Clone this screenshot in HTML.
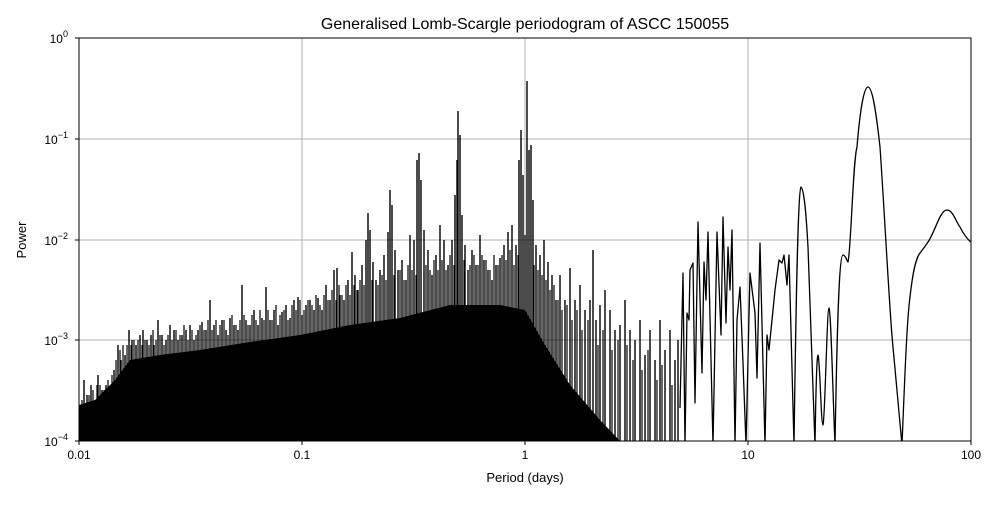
<!DOCTYPE html>
<html><head><meta charset="utf-8"><style>
body{margin:0;background:#fff}
svg text{font-family:"Liberation Sans","DejaVu Sans",sans-serif;fill:#000}
</style></head><body>
<svg width="1000" height="500" xmlns="http://www.w3.org/2000/svg">
<rect width="1000" height="500" fill="#fff"/>
<g stroke="#b0b0b0" stroke-width="1">
<line x1="302" y1="38" x2="302" y2="441"/><line x1="525" y1="38" x2="525" y2="441"/><line x1="748" y1="38" x2="748" y2="441"/>
<line x1="79" y1="139" x2="971" y2="139"/><line x1="79" y1="240" x2="971" y2="240"/><line x1="79" y1="340" x2="971" y2="340"/>
</g>
<defs><clipPath id="c"><rect x="79" y="38" width="892" height="403"/></clipPath></defs>
<g clip-path="url(#c)">
<polygon fill="#000" points="79,441 79,405 95,400 115,380 130,360 160,355 200,350 250,342 300,335 350,325 400,318 450,305 500,305 525,310 545,345 570,385 600,420 620,441"/>
<path fill="none" stroke="#000" stroke-width="1.4" d="M80,441V410M84,441V380M87,441V395M91,441V385M95,441V400M98,441V375M102,441V390M106,441V385M110,441V392M114,441V370M118,441V345M121,441V360M125,441V355M129,441V330M132,441V340M136,441V345M140,441V335M143,441V330M147,441V340M151,441V335M154,441V345M158,441V320M162,441V335M166,441V340M170,441V325M174,441V330M178,441V340M182,441V335M186,441V330M190,441V325M194,441V340M198,441V330M202,441V322M206,441V330M210,441V300M214,441V325M218,441V335M222,441V320M226,441V330M230,441V318M234,441V325M238,441V330M242,441V285M246,441V320M250,441V325M254,441V310M258,441V325M262,441V318M266,441V287M270,441V320M274,441V310M278,441V325M282,441V312M286,441V305M290,441V318M294,441V300M298,441V297M302,441V315M306,441V305M310,441V300M314,441V310M318,441V298M322,441V310M326,441V285M330,441V300M334,441V270M337,441V268M340,441V295M344,441V300M348,441V280M352,441V252M355,441V275M358,441V290M362,441V265M366,441V240M368,441V213M370,441V230M373,441V262M376,441V280M380,441V270M384,441V255M388,441V232M390,441V190M392,441V205M395,441V250M398,441V270M402,441V260M406,441V280M410,441V235M414,441V240M417,441V160M419,441V153M421,441V180M424,441V230M428,441V250M432,441V275M436,441V255M440,441V225M444,441V240M448,441V265M452,441V240M455,441V195M457,441V160M458,441V111M460,441V135M462,441V215M465,441V245M468,441V270M472,441V250M476,441V265M480,441V235M484,441V260M488,441V270M492,441V280M496,441V265M500,441V258M504,441V245M508,441V232M512,441V225M516,441V245M519,441V160M521,441V130M523,441V175M525,441V235M527,441V81M529,441V150M531,441V145M533,441V200M536,441V245M540,441V255M544,441V240M548,441V262M552,441V275M556,441V300M560,441V275M565,441V300M570,441V268M575,441V300M580,441V285M585,441V310M590,441V300M593,441V250M596,441V320M600,441V305M605,441V290M610,441V310M615,441V330M620,441V325M625,441V300M630,441V330M635,441V340M640,441V320M645,441V355M650,441V330M655,441V360M660,441V320M665,441V350M670,441V330M675,441V360M678,441V340"/>
<path fill="none" stroke="#000" stroke-width="1.2" d="M82,441V400M89,441V395M93,441V390M97,441V385M100,441V385M104,441V390M108,441V380M112,441V375M116,441V360M120,441V350M123,441V345M127,441V345M131,441V345M134,441V340M138,441V340M142,441V345M145,441V340M149,441V345M153,441V330M156,441V340M160,441V335M164,441V345M168,441V335M172,441V340M176,441V330M180,441V335M184,441V325M188,441V340M192,441V330M196,441V335M200,441V325M204,441V330M208,441V320M212,441V330M216,441V320M220,441V325M224,441V320M228,441V335M232,441V315M236,441V325M240,441V320M244,441V315M248,441V325M252,441V315M256,441V320M260,441V310M264,441V320M268,441V310M272,441V320M276,441V305M280,441V315M284,441V310M288,441V320M292,441V305M296,441V310M300,441V300M304,441V310M308,441V300M312,441V305M316,441V295M320,441V305M324,441V295M328,441V300M332,441V290M336,441V300M339,441V285M342,441V295M346,441V285M350,441V295M354,441V285M357,441V290M360,441V280M364,441V285M372,441V280M378,441V285M382,441V275M386,441V280M394,441V275M400,441V270M404,441V280M408,441V265M412,441V270M416,441V275M426,441V265M430,441V270M434,441V260M438,441V270M442,441V260M446,441V270M450,441V255M454,441V265M464,441V260M470,441V265M474,441V255M478,441V265M482,441V255M486,441V260M490,441V270M494,441V255M498,441V265M502,441V255M506,441V260M510,441V250M514,441V265M518,441V255M534,441V265M538,441V270M542,441V275M546,441V280M550,441V290M554,441V285M558,441V300M562,441V310M567,441V305M572,441V320M577,441V310M582,441V330M588,441V320M598,441V345M603,441V330M612,441V350M618,441V340M627,441V345M633,441V360M642,441V370M648,441V350M657,441V380M662,441V365M672,441V385"/>
<path fill="none" stroke="#000" stroke-width="1.3" stroke-linejoin="round" d="M680,408 L683,273 L685,445 L687,313 L689,320 L690,270 L693,263 L695,403 L698,222 L702,373 L704,262 L706,300 L708,232 L713,445 L717,232 L721,335 L723,217 L726,323 L728,247 L730,290 L732,230 L735,445 L737,320 L740,287 L743,363 L746,445 L750,273 L755,313 L757,378 L760,243 L765,445 L767,335 L769,350 L775,290 L779,260 L782,263 L784,255 L787,285 L789,255 L794,445 C796,300 798,190 801,187 C805,190 807,230 808,247 L815,445 C816,380 817,355 818,355 C820,360 821,425 823,425 C825,420 827,308 829,308 C831,310 833,400 835,445 C837,330 839,255 843,255 C846,255 847,262 848,262 C851,250 853,160 857,147 C860,110 864,87 868,87 C873,87 877,120 880,147 C885,220 890,320 893,347 L902,445 C905,370 907,320 910,297 C913,270 916,258 920,253 C924,248 926,245 928,242 C935,232 940,210 947,210 C953,210 956,222 960,227 C964,235 968,240 972,243"/>
</g>
<rect x="79" y="38" width="892" height="403" fill="none" stroke="#000" stroke-width="1"/>
<g stroke="#000" stroke-width="1">
<line x1="79" y1="441" x2="79" y2="445"/><line x1="302" y1="441" x2="302" y2="445"/><line x1="525" y1="441" x2="525" y2="445"/><line x1="748" y1="441" x2="748" y2="445"/><line x1="971" y1="441" x2="971" y2="445"/>
<line x1="75" y1="38" x2="79" y2="38"/><line x1="75" y1="139" x2="79" y2="139"/><line x1="75" y1="240" x2="79" y2="240"/><line x1="75" y1="340" x2="79" y2="340"/><line x1="75" y1="441" x2="79" y2="441"/>
</g>
<g font-size="12" text-anchor="middle">
<text x="79" y="459">0.01</text><text x="302" y="459">0.1</text><text x="525" y="459">1</text><text x="748" y="459">10</text><text x="971" y="459">100</text>
</g>
<g font-size="12" text-anchor="end">
<text x="68" y="43">10<tspan font-size="9" dy="-6">0</tspan></text>
<text x="68" y="144">10<tspan font-size="9" dy="-6">−1</tspan></text>
<text x="68" y="245">10<tspan font-size="9" dy="-6">−2</tspan></text>
<text x="68" y="345">10<tspan font-size="9" dy="-6">−3</tspan></text>
<text x="68" y="446">10<tspan font-size="9" dy="-6">−4</tspan></text>
</g>
<text x="525" y="482" font-size="13" text-anchor="middle">Period (days)</text>
<text x="26" y="240" font-size="13" text-anchor="middle" transform="rotate(-90 26 240)">Power</text>
<text x="525" y="29" font-size="16" text-anchor="middle">Generalised Lomb-Scargle periodogram of ASCC 150055</text>
</svg>
</body></html>
